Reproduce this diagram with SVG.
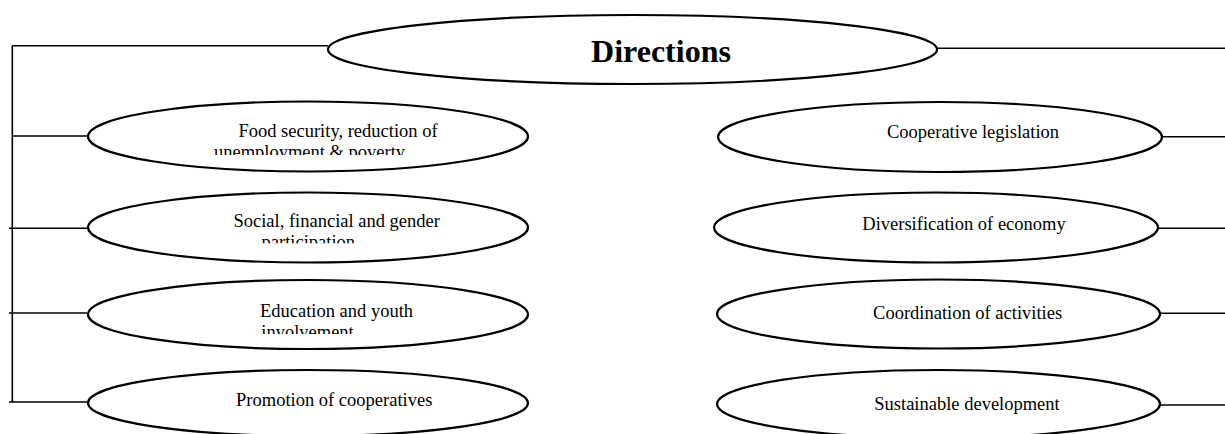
<svg xmlns="http://www.w3.org/2000/svg" width="1225" height="434" viewBox="0 0 1225 434">
<style>
.shape{fill:#fff;stroke:#000;stroke-width:2.2}
.conn{fill:none;stroke:#000;stroke-width:1.6}
.lbl{font-family:"Liberation Serif","Times New Roman",serif;font-size:18.5px;fill:#000;text-anchor:middle}
.title{font-family:"Liberation Serif","Times New Roman",serif;font-size:32px;font-weight:bold;fill:#000;text-anchor:middle}
</style>
<defs>
<clipPath id="c1"><rect x="0" y="100" width="600" height="55"/></clipPath>
<clipPath id="c2"><rect x="0" y="190" width="600" height="53.3"/></clipPath>
<clipPath id="c3"><rect x="0" y="280" width="600" height="54"/></clipPath>
</defs>
<rect width="1225" height="434" fill="#fff"/>
<g id="connectors">
<path class="conn" d="M12.3 45.7 V402 M12.3 45.7 H328 M12.3 136 H88 M9 228.3 H87 M9 313 H87 M9 402 H87"/>
<path class="conn" d="M937 48.3 H1225 M1162 136.7 H1225 M1158 228.3 H1225 M1160 313.3 H1225 M1160 405 H1225"/>
</g>
<g id="directions">
<ellipse class="shape" cx="632.5" cy="49.5" rx="304.5" ry="34.5"/>
<text class="title" x="661" y="62">Directions</text>
</g>
<g id="food-security">
<ellipse class="shape" cx="308" cy="136.5" rx="220" ry="35"/>
<g clip-path="url(#c1)">
<text class="lbl" x="338" y="137.3">Food security, reduction of</text>
<text class="lbl" x="309.5" y="158.3">unemployment &amp; poverty</text>
</g>
</g>
<g id="social-participation">
<ellipse class="shape" cx="308" cy="227.5" rx="220" ry="35"/>
<g clip-path="url(#c2)">
<text class="lbl" x="336.7" y="226.7">Social, financial and gender</text>
<text class="lbl" x="308.3" y="247.7">participation</text>
</g>
</g>
<g id="education-youth">
<ellipse class="shape" cx="308" cy="314.5" rx="220" ry="34.5"/>
<g clip-path="url(#c3)">
<text class="lbl" x="336.5" y="317.3">Education and youth</text>
<text class="lbl" x="307.5" y="338.3">involvement</text>
</g>
</g>
<g id="promotion">
<ellipse class="shape" cx="308" cy="403" rx="220" ry="33"/>
<text class="lbl" x="334.2" y="406">Promotion of cooperatives</text>
</g>
<g id="legislation">
<ellipse class="shape" cx="940" cy="137" rx="222" ry="35"/>
<text class="lbl" x="973" y="138">Cooperative legislation</text>
</g>
<g id="diversification">
<ellipse class="shape" cx="936" cy="227.5" rx="222" ry="35"/>
<text class="lbl" x="964" y="230">Diversification of economy</text>
</g>
<g id="coordination">
<ellipse class="shape" cx="938.5" cy="314" rx="221.5" ry="34.5"/>
<text class="lbl" x="967.6" y="319">Coordination of activities</text>
</g>
<g id="sustainable">
<ellipse class="shape" cx="938.5" cy="404" rx="221.5" ry="34"/>
<text class="lbl" x="967" y="410">Sustainable development</text>
</g>
</svg>
